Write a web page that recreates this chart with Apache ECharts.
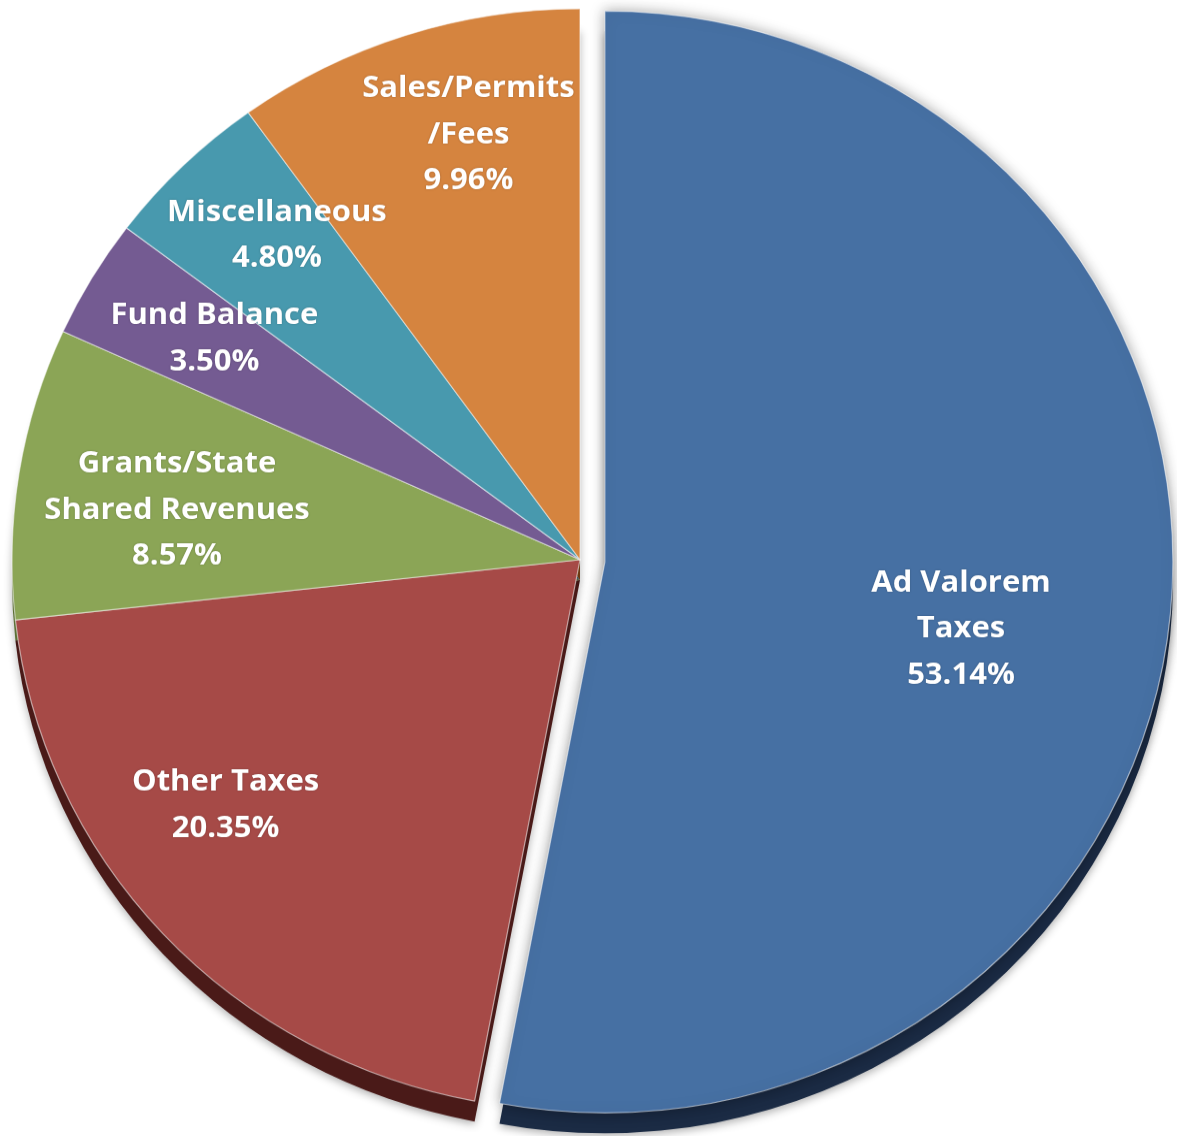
<!DOCTYPE html>
<html>
<head>
<meta charset="utf-8">
<script src="https://cdn.jsdelivr.net/npm/echarts@6.0.0/dist/echarts.min.js"></script>
<style>
html, body { margin: 0; padding: 0; background: #fff; overflow: hidden; }
#wrap { width: 1177px; height: 1136px; overflow: hidden; }
/* squash a little vertically to get the tilted look of the original */
#main { width: 1177px; height: 1171px; transform: scaleY(0.97); transform-origin: 0 0; }
</style>
</head>
<body>
<div id="wrap"><div id="main"></div></div>
<script>
// data
var categories = ['Ad Valorem\nTaxes', 'Other Taxes', 'Grants/State\nShared Revenues', 'Fund Balance', 'Miscellaneous', 'Sales/Permits\n/Fees'];
var values = [53.14, 20.35, 8.57, 3.50, 4.80, 9.96];
var exploded = [true, false, false, false, false, false];

var faceColors = ['#4670a3', '#a64a47', '#8ba556', '#745b92', '#4899ae', '#d5843f'];
var sideColors = ['#1b2b44', '#4a1a18', '#5c7034', '#3b2c50', '#225664', '#6a3912'];
// label nudges (padding [top, right, bottom, left]) to sit where excel put them
var labelPads = [[56, 164, 0, 0], [0, 63, 91, 0], [37, 0, 0, 63], [0, 0, 6, 25], [0, 0, 39, 9], [0, 0, 39, 47]];

var R = 568;
var cx = 580, cy = 577;

var dom = document.getElementById('main');
var myChart = echarts.init(dom, null, { renderer: 'canvas' });

var txt = {
	color: '#fff',
	fontFamily: 'Open Sans',
	fontWeight: 'bold',
	fontSize: 31,
	lineHeight: 47.5,
	textShadowColor: 'rgba(0,0,0,0.25)',
	textShadowBlur: 2
};

function buildData(kind) {
	var arr = [];
	for (var i = 0; i < values.length; i++) {
		var item = {
			name: categories[i],
			value: values[i],
			selected: exploded[i]
		};
		if (kind == 'side') {
			item.itemStyle = {
				color: sideColors[i],
				shadowBlur: 8,
				shadowOffsetY: 3,
				shadowColor: 'rgba(0,0,0,0.3)'
			};
		} else if (kind == 'face') {
			item.itemStyle = {
				color: faceColors[i],
				borderColor: 'rgba(255,255,255,0.55)',
				borderWidth: 1.2
			};
			if (exploded[i]) {
				item.itemStyle.shadowBlur = 14;
				item.itemStyle.shadowColor = 'rgba(0,0,0,0.35)';
			}
		} else {
			item.itemStyle = { color: 'rgba(0,0,0,0)' };
			item.label = { padding: labelPads[i] };
		}
		arr.push(item);
	}
	return arr;
}

var option = {
	animation: false,
	backgroundColor: '#fff',
	series: [
		{ // depth of the pie
			type: 'pie',
			center: [cx, cy + 21],
			radius: R,
			startAngle: 90,
			selectedMode: 'single',
			selectedOffset: 25,
			label: { show: false },
			labelLine: { show: false },
			emphasis: { disabled: true },
			data: buildData('side')
		},
		{ // faces
			type: 'pie',
			center: [cx, cy],
			radius: R,
			startAngle: 90,
			selectedMode: 'single',
			selectedOffset: 25,
			label: { show: false },
			labelLine: { show: false },
			emphasis: { disabled: true },
			data: buildData('face')
		},
		{ // label ring
			type: 'pie',
			center: [cx, cy],
			radius: [306, R],
			startAngle: 90,
			selectedMode: 'single',
			selectedOffset: 25,
			avoidLabelOverlap: false,
			labelLayout: { hideOverlap: false },
			labelLine: { show: false },
			emphasis: { disabled: true },
			label: Object.assign({
				show: true,
				position: 'inside',
				rich: { p: Object.assign({}, txt) },
				formatter: function (p) {
					return p.name + '\n{p|' + p.value.toFixed(2) + '%}';
				}
			}, txt),
			data: buildData('label')
		}
	]
};

myChart.setOption(option, true);
</script>
</body>
</html>
